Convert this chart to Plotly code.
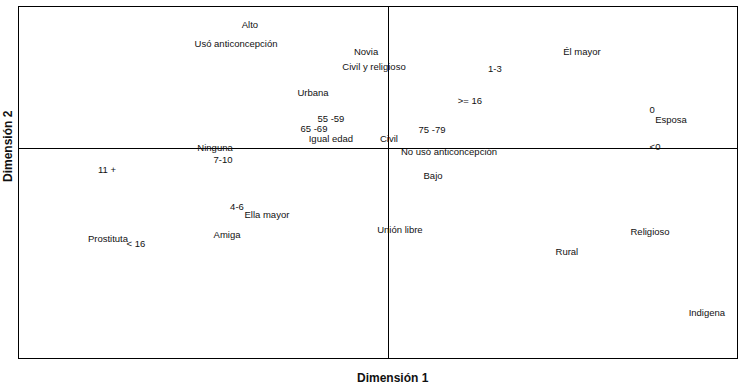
import plotly.graph_objects as go

labels = ["Alto", "Usó anticoncepción", "Novia", "Civil y religioso", "Urbana",
          "55 -59", "65 -69", "Igual edad", "Ninguna", "7-10", "11 +", "Civil",
          "75 -79", "No usó anticoncepción", ">= 16", "1-3", "Él mayor", "0",
          "Esposa", "<0", "Bajo", "4-6", "Ella mayor", "Amiga", "Prostituta",
          "< 16", "Unión libre", "Religioso", "Rural", "Indigena"]
dim1 = [-0.697, -0.767, -0.115, -0.075, -0.381,
        -0.291, -0.376, -0.291, -0.872, -0.832, -1.414, 0.0,
        0.216, 0.301, 0.406, 0.531, 0.968, 1.319,
        1.414, 1.334, 0.221, -0.762, -0.612, -0.812, -1.409,
        -1.269, 0.055, 1.309, 0.892, 1.594]
dim2 = [0.612, 0.518, 0.478, 0.402, 0.272,
        0.143, 0.093, 0.043, -0.002, -0.062, -0.112, 0.043,
        0.088, -0.022, 0.233, 0.393, 0.478, 0.188,
        0.138, 0.003, -0.142, -0.297, -0.337, -0.437, -0.457,
        -0.482, -0.412, -0.422, -0.522, -0.827]

fig = go.Figure()
fig.add_trace(go.Scatter(
    x=dim1, y=dim2, mode="text", text=labels,
    textposition="middle center",
    textfont=dict(family="Liberation Sans, Arial, sans-serif", size=9.5, color="#111111"),
    hoverinfo="text", showlegend=False,
))

axis_common = dict(showgrid=False, showticklabels=False, ticks="",
                   showline=True, linecolor="black", linewidth=1, mirror=True,
                   zeroline=True, zerolinecolor="black", zerolinewidth=1)
fig.update_xaxes(range=[-1.855, 1.745], **axis_common)
fig.update_yaxes(range=[-1.05, 0.705], **axis_common)

fig.update_layout(
    width=743, height=388,
    margin=dict(l=19, r=6, t=7, b=30),
    paper_bgcolor="white", plot_bgcolor="white",
    annotations=[
        dict(text="<b>Dimensión 1</b>", xref="paper", yref="paper",
             x=0.521, y=-0.057, showarrow=False, xanchor="center", yanchor="middle",
             font=dict(family="Liberation Sans, Arial, sans-serif", size=12, color="#111111")),
        dict(text="<b>Dimensión 2</b>", xref="paper", yref="paper",
             x=-0.0153, y=0.604, showarrow=False, xanchor="center", yanchor="middle",
             textangle=-90,
             font=dict(family="Liberation Sans, Arial, sans-serif", size=12, color="#111111")),
    ],
)

fig.write_html("out.html", config={"displayModeBar": False})

# remove default browser body margin so the figure sits at the page's top-left
with open("out.html", "r", encoding="utf-8") as f:
    html = f.read()
html = html.replace("<body>", '<body style="margin:0;padding:0;">', 1)
with open("out.html", "w", encoding="utf-8") as f:
    f.write(html)
